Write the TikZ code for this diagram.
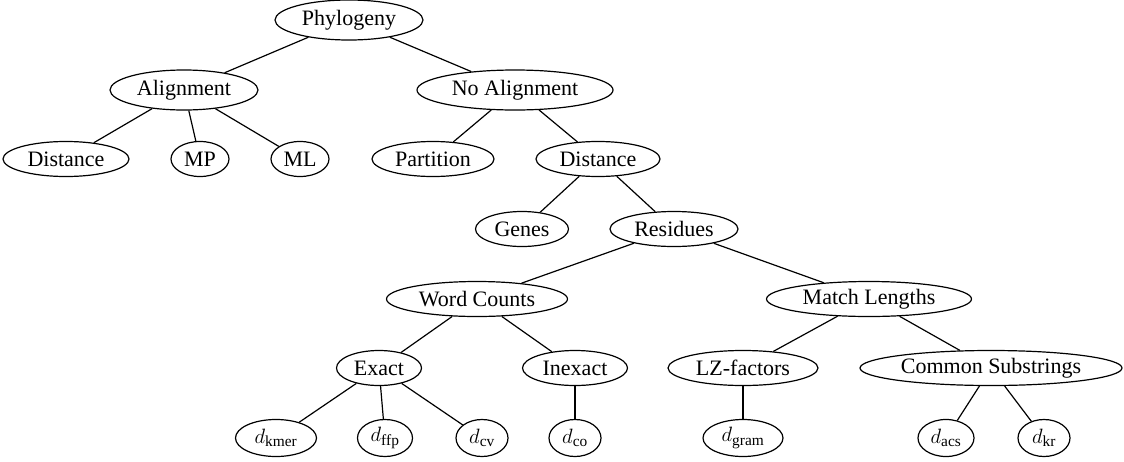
\documentclass[tikz,border=0pt]{standalone}
\usepackage{fontspec}
\setmainfont{Liberation Serif}
\usetikzlibrary{shapes.geometric}

\begin{document}
\begin{tikzpicture}[x=1pt, y=-1pt, line width=1.2pt,
		tnode/.style={draw, ellipse, inner sep=0pt, minimum height=35pt, font=\fontsize{22}{26}\selectfont},
		bignode/.style={tnode, minimum height=40pt},
		leafnode/.style={tnode, minimum height=37pt}]
	\useasboundingbox (0,0) rectangle (1124,461);
	% top levels
	\node (phylo) [bignode, minimum width=148pt] at (349,20) {Phylogeny};
	\node (align) [bignode, minimum width=148pt] at (184,90) {Alignment};
	\node (noalign) [bignode, minimum width=196pt] at (515,90) {No Alignment};
	\node (adist) [tnode, minimum width=126pt] at (66,159) {Distance};
	\node (mp) [tnode, minimum width=58pt] at (200,159) {MP};
	\node (ml) [tnode, minimum width=58pt] at (300,159) {ML};
	\node (part) [tnode, minimum width=122pt] at (433,159) {Partition};
	\node (ndist) [tnode, minimum width=124pt] at (598,159) {Distance};
	\node (genes) [tnode, minimum width=93pt] at (522,229) {Genes};
	\node (resid) [tnode, minimum width=128pt] at (674,229) {Residues};
	\node (words) [tnode, minimum width=181pt] at (477,299) {Word Counts};
	\node (match) [tnode, minimum width=205pt] at (869,299) {Match Lengths};
	\node (exact) [tnode, minimum width=85pt] at (379,368) {Exact};
	\node (inexact) [tnode, minimum width=105pt] at (575,368) {Inexact};
	\node (lz) [tnode, minimum width=150pt] at (743,368) {LZ-factors};
	\node (common) [tnode, minimum width=262pt] at (991,368) {Common Substrings};
	% measures
	\node (kmer) [leafnode, minimum width=81pt] at (276,438) {$d_{\mathrm{kmer}}$};
	\node (ffp) [leafnode, minimum width=55pt] at (385,438) {$d_{\mathrm{ffp}}$};
	\node (cv) [leafnode, minimum width=52pt] at (482,438) {$d_{\mathrm{cv}}$};
	\node (co) [leafnode, minimum width=52pt] at (575,438) {$d_{\mathrm{co}}$};
	\node (gram) [leafnode, minimum width=80pt] at (743,438) {$d_{\mathrm{gram}}$};
	\node (acs) [leafnode, minimum width=56pt] at (946,438) {$d_{\mathrm{acs}}$};
	\node (kr) [leafnode, minimum width=52pt] at (1044,438) {$d_{\mathrm{kr}}$};
	\draw (phylo) -- (align);
	\draw (phylo) -- (noalign);
	\draw (align) -- (adist);
	\draw (align) -- (mp);
	\draw (align) -- (ml);
	\draw (noalign) -- (part);
	\draw (noalign) -- (ndist);
	\draw (ndist) -- (genes);
	\draw (ndist) -- (resid);
	\draw (resid) -- (words);
	\draw (resid) -- (match);
	\draw (words) -- (exact);
	\draw (words) -- (inexact);
	\draw (match) -- (lz);
	\draw (match) -- (common);
	\draw (exact) -- (kmer);
	\draw (exact) -- (ffp);
	\draw (exact) -- (cv);
	\draw (inexact) -- (co);
	\draw (lz) -- (gram);
	\draw (common) -- (acs);
	\draw (common) -- (kr);
\end{tikzpicture}
\end{document}
